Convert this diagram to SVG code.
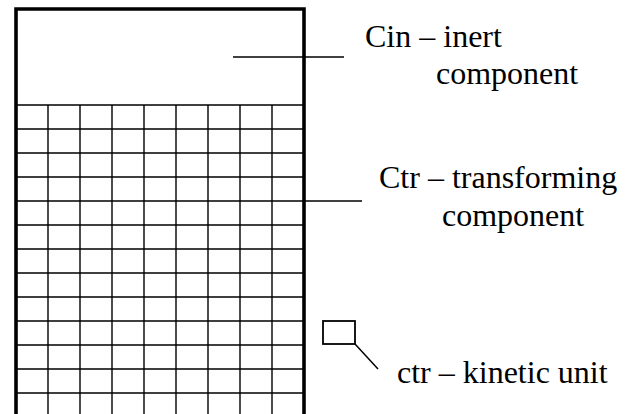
<svg xmlns="http://www.w3.org/2000/svg" width="633" height="414" viewBox="0 0 633 414">
<style>
.grid{stroke:#000;stroke-width:1.4;fill:none}
.border{stroke:#000;stroke-width:3.6;fill:none}
.lead{stroke:#000;stroke-width:1.5;fill:none}
.lbl{font-size:32px;fill:#000}
</style>
<rect width="633" height="414" fill="#fff"/>
<g id="vessel">
<g id="grid" class="grid">
<path d="M16 105H304M16 129H304M16 153H304M16 177H304M16 201H304M16 225H304M16 249H304M16 273H304M16 297H304M16 321H304M16 345H304M16 369H304M16 393H304"/>
<path d="M48 105V416M80 105V416M112 105V416M144 105V416M176 105V416M208 105V416M240 105V416M272 105V416"/>
</g>
<path class="border" d="M16 418V9H304V418"/>
</g>
<g id="connectors" class="lead">
<path d="M233 57H344"/>
<path d="M304 201H362"/>
<path d="M355 344L378 369"/>
</g>
<g font-family="Liberation Serif, 'Times New Roman', 'DejaVu Serif', serif">
<g id="cin-label"><text class="lbl" x="365" y="47">Cin – inert</text><text class="lbl" x="436" y="84">component</text></g>
<g id="ctr-label"><text class="lbl" x="379" y="188">Ctr – transforming</text><text class="lbl" x="442" y="226">component</text></g>
<g id="ctr-unit-label"><text class="lbl" x="397" y="383">ctr – kinetic unit</text></g>
</g>
<g id="kinetic-unit"><rect x="323" y="321" width="32" height="23" fill="none" stroke="#000" stroke-width="1.8"/></g>
</svg>
